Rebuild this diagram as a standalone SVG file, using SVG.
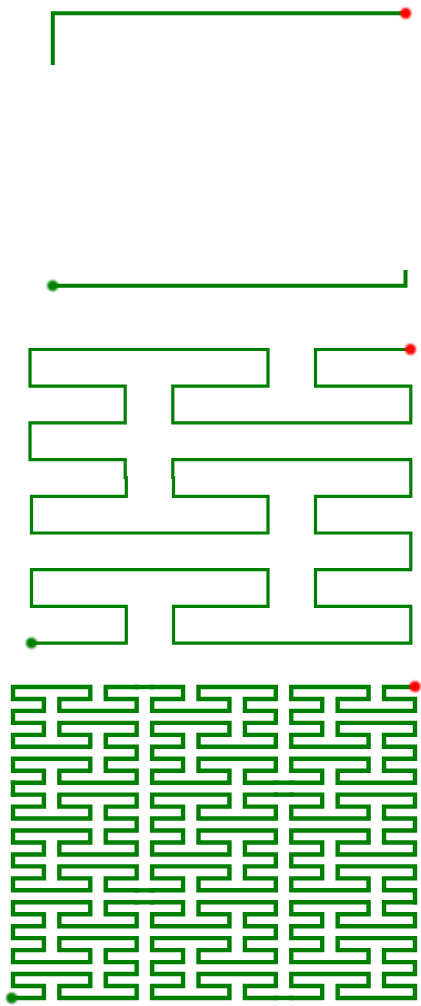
<svg xmlns="http://www.w3.org/2000/svg" xmlns:xlink="http://www.w3.org/1999/xlink" width="421" height="1006" viewBox="0 0 421 1006">
  <style>
    .ln { fill: none; stroke: #008000; stroke-linejoin: miter; }
    .p1 { stroke-width: 4; stroke-linecap: butt; }
    .p2 { stroke-width: 3.2; stroke-linecap: square; }
    .p3 { stroke-width: 4.4; stroke-linecap: square; }
    .start { fill: #008000; filter: url(#soft); }
    .end { fill: #ff0000; filter: url(#soft); }
  </style>
  <defs>
    <filter id="soft" x="-50%" y="-50%" width="200%" height="200%">
      <feGaussianBlur stdDeviation="0.8"/>
    </filter>
    <path id="o2" d="M0,95.68H30.92V83.72H0V71.76H77.3V83.72H46.38V95.68H123.68V83.72H92.76V71.76H123.68V59.8H92.76V47.84H123.68V35.88H46.38V47.84H77.3V59.8H0V47.84H30.92V35.88H0V23.92H30.92V11.96H0V0H77.3V11.96H46.38V23.92H123.68V11.96H92.76V0H123.68"/>
  </defs>
  <rect width="421" height="1006" fill="#ffffff"/>

  <g id="panel1">
    <g id="connectors1">
      <path class="ln p1" d="M52.8,65V13.3H405.7"/>
      <path class="ln p1" d="M52.7,285.7H405.5V270"/>
    </g>
    <circle id="start1" class="start" cx="52.7" cy="285.7" r="5.5"/>
    <circle id="end1" class="end" cx="405.7" cy="13.3" r="5.5"/>
  </g>

  <g id="panel2">
    <g id="connectors2">
      <path class="ln p2" d="M31.5,643.1H126.3V606.4H31.5V569.7H268V606.4H173.5V643.1H410.8V606.4H315.5V569.7H410.8V533H315.5V496.3H410.8V459.6H172.8V477.5H173.5V496.3H268V533H31.5V496.3H126.3V477.5H125.2V459.6H30V422.9H125.2V386.2H30V349.5H268V386.2H172.8V422.9H410.8V386.2H315.5V349.5H410.8"/>
    </g>
    <circle id="start2" class="start" cx="31.5" cy="643" r="5.5"/>
    <circle id="end2" class="end" cx="410.5" cy="349.3" r="5.5"/>
  </g>

  <g id="panel3">
    <g id="blocks3" class="ln p3">
      <use xlink:href="#o2" href="#o2" transform="translate(13,687)"/>
      <use xlink:href="#o2" href="#o2" transform="translate(152.14,782.68) scale(1,-1)"/>
      <use xlink:href="#o2" href="#o2" transform="translate(291.28,687)"/>
      <use xlink:href="#o2" href="#o2" transform="translate(136.68,794.64) scale(-1,1)"/>
      <use xlink:href="#o2" href="#o2" transform="translate(275.82,890.32) scale(-1,-1)"/>
      <use xlink:href="#o2" href="#o2" transform="translate(414.96,794.64) scale(-1,1)"/>
      <use xlink:href="#o2" href="#o2" transform="translate(13,902.28)"/>
      <use xlink:href="#o2" href="#o2" transform="translate(152.14,997.96) scale(1,-1)"/>
      <use xlink:href="#o2" href="#o2" transform="translate(291.28,902.28)"/>
    </g>
    <g id="connectors3" class="ln p3">
      <path d="M136.68,902.28H152.14"/>
      <path d="M275.82,997.96H291.28"/>
      <path d="M414.96,902.28V890.32"/>
      <path d="M291.28,794.64H275.82"/>
      <path d="M152.14,890.32H136.68"/>
      <path d="M13,794.64V782.68"/>
      <path d="M136.68,687H152.14"/>
      <path d="M275.82,782.68H291.28"/>
    </g>
    <circle id="start3" class="start" cx="11.7" cy="998" r="5.5"/>
    <circle id="end3" class="end" cx="415" cy="686.5" r="5.5"/>
  </g>
</svg>
